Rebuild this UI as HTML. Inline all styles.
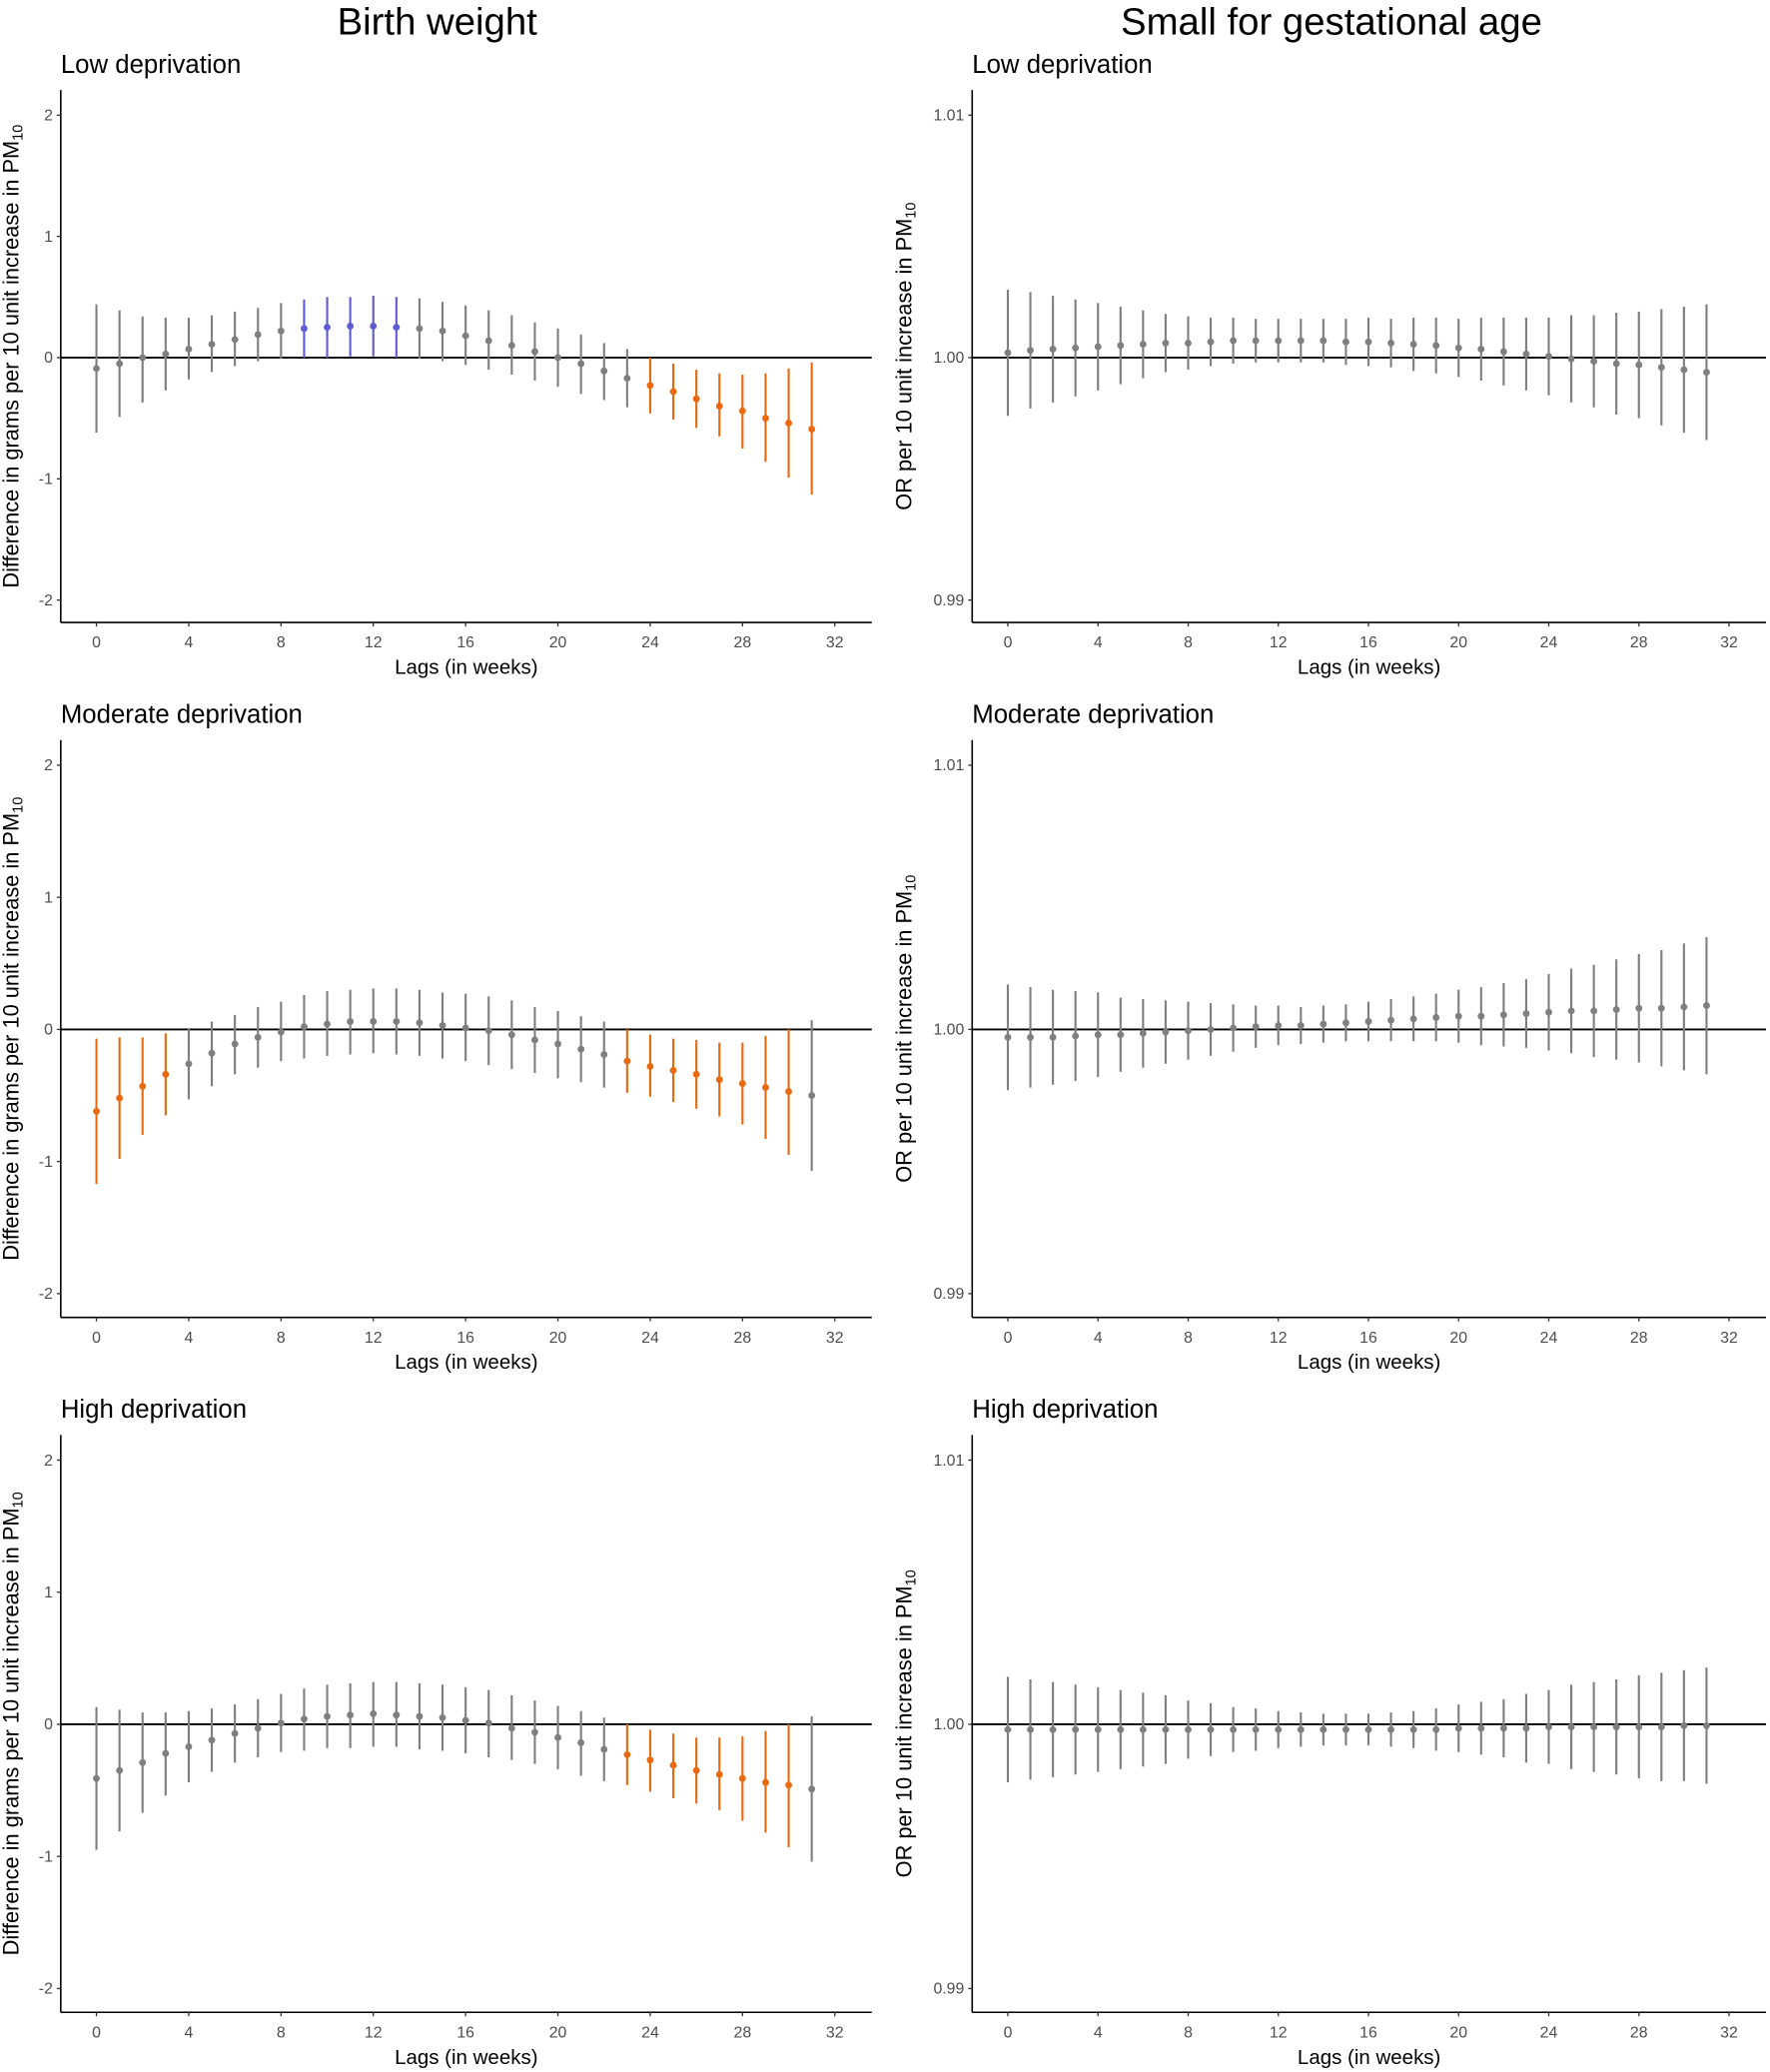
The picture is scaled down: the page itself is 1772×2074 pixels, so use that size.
<!DOCTYPE html>
<html><head><meta charset="utf-8"><style>
html,body{margin:0;padding:0;background:#fff}
svg{display:block;font-family:"Liberation Sans",sans-serif}
</style></head><body>
<svg id="fig" width="1772" height="2074" viewBox="0 0 1340 1568" xmlns="http://www.w3.org/2000/svg">
<text x="331" y="26" font-size="29" text-anchor="middle">Birth weight</text>
<text x="1008" y="26" font-size="29" text-anchor="middle">Small for gestational age</text>
</svg>
<script>
const lags = [0,1,2,3,4,5,6,7,8,9,10,11,12,13,14,15,16,17,18,19,20,21,22,23,24,25,26,27,28,29,30,31];
const xTicks = [0,4,8,12,16,20,24,28,32];
const bwTicks = ["2","1","0","-1","-2"];
const bwTickVals = [2,1,0,-1,-2];
const sgaTicks = ["1.01","1.00","0.99"];
const sgaTickVals = [10,0,-10];
const bwLowEst = [-0.09,-0.05,0.0,0.03,0.07,0.11,0.15,0.19,0.22,0.24,0.25,0.26,0.26,0.25,0.24,0.22,0.18,0.14,0.10,0.05,0.0,-0.05,-0.11,-0.17,-0.23,-0.28,-0.34,-0.40,-0.44,-0.50,-0.54,-0.59];
const bwLowLo = [-0.62,-0.49,-0.37,-0.27,-0.18,-0.12,-0.07,-0.03,-0.01,0.0,0.0,0.01,0.01,0.0,-0.01,-0.03,-0.06,-0.10,-0.14,-0.19,-0.24,-0.30,-0.35,-0.41,-0.46,-0.51,-0.58,-0.65,-0.75,-0.86,-0.99,-1.13];
const bwLowHi = [0.44,0.39,0.34,0.33,0.33,0.35,0.38,0.41,0.45,0.48,0.50,0.50,0.51,0.50,0.49,0.46,0.43,0.39,0.35,0.29,0.24,0.19,0.12,0.07,0.0,-0.05,-0.10,-0.13,-0.14,-0.13,-0.09,-0.04];
const bwModEst = [-0.62,-0.52,-0.43,-0.34,-0.26,-0.18,-0.11,-0.06,-0.02,0.02,0.04,0.06,0.06,0.06,0.05,0.03,0.01,-0.01,-0.04,-0.08,-0.11,-0.15,-0.19,-0.24,-0.28,-0.31,-0.34,-0.38,-0.41,-0.44,-0.47,-0.50];
const bwModLo = [-1.17,-0.98,-0.80,-0.65,-0.53,-0.43,-0.34,-0.29,-0.24,-0.22,-0.20,-0.19,-0.18,-0.19,-0.20,-0.22,-0.24,-0.27,-0.30,-0.33,-0.37,-0.40,-0.44,-0.48,-0.51,-0.55,-0.60,-0.66,-0.72,-0.83,-0.95,-1.07];
const bwModHi = [-0.07,-0.06,-0.06,-0.03,0.01,0.06,0.11,0.17,0.21,0.26,0.29,0.30,0.31,0.31,0.30,0.28,0.27,0.25,0.22,0.17,0.14,0.10,0.06,0.0,-0.04,-0.07,-0.08,-0.10,-0.10,-0.05,0.0,0.07];
const bwHighEst = [-0.41,-0.35,-0.29,-0.22,-0.17,-0.12,-0.07,-0.03,0.01,0.04,0.06,0.07,0.08,0.07,0.06,0.05,0.03,0.01,-0.03,-0.06,-0.10,-0.14,-0.19,-0.23,-0.27,-0.31,-0.35,-0.38,-0.41,-0.44,-0.46,-0.49];
const bwHighLo = [-0.95,-0.81,-0.67,-0.54,-0.44,-0.36,-0.29,-0.25,-0.21,-0.20,-0.18,-0.18,-0.17,-0.17,-0.19,-0.20,-0.22,-0.25,-0.27,-0.30,-0.34,-0.39,-0.43,-0.46,-0.51,-0.56,-0.60,-0.65,-0.73,-0.82,-0.93,-1.04];
const bwHighHi = [0.13,0.11,0.09,0.09,0.10,0.12,0.15,0.19,0.23,0.27,0.30,0.31,0.32,0.32,0.31,0.30,0.28,0.26,0.22,0.18,0.14,0.10,0.05,0.0,-0.04,-0.07,-0.10,-0.10,-0.09,-0.05,0.0,0.06];
const sgaLowEst = [0.2,0.3,0.35,0.4,0.45,0.5,0.55,0.6,0.6,0.65,0.7,0.7,0.7,0.7,0.7,0.65,0.65,0.6,0.55,0.5,0.4,0.35,0.25,0.15,0.05,-0.05,-0.15,-0.25,-0.3,-0.4,-0.5,-0.6];
const sgaLowHalf = [2.6,2.4,2.2,2.0,1.8,1.6,1.4,1.2,1.1,1.0,0.95,0.9,0.9,0.9,0.9,0.95,1.0,1.0,1.1,1.15,1.2,1.3,1.4,1.5,1.6,1.8,1.9,2.1,2.2,2.4,2.6,2.8];
const sgaModEst = [-0.3,-0.3,-0.3,-0.25,-0.2,-0.2,-0.15,-0.1,-0.05,0,0.05,0.1,0.15,0.15,0.2,0.25,0.3,0.35,0.4,0.45,0.5,0.5,0.55,0.6,0.65,0.7,0.7,0.75,0.8,0.8,0.85,0.9];
const sgaModHalf = [2.0,1.9,1.8,1.7,1.6,1.4,1.3,1.2,1.1,1.0,0.9,0.8,0.75,0.7,0.7,0.7,0.75,0.8,0.85,0.9,1.0,1.1,1.2,1.3,1.45,1.6,1.75,1.9,2.05,2.2,2.4,2.6];
const sgaHighEst = [-0.2,-0.2,-0.2,-0.2,-0.2,-0.2,-0.2,-0.2,-0.2,-0.2,-0.2,-0.2,-0.2,-0.2,-0.2,-0.2,-0.2,-0.2,-0.2,-0.2,-0.15,-0.15,-0.15,-0.15,-0.1,-0.1,-0.1,-0.1,-0.1,-0.1,-0.05,-0.05];
const sgaHighHalf = [2.0,1.9,1.8,1.7,1.6,1.5,1.4,1.3,1.1,1.0,0.85,0.8,0.7,0.65,0.6,0.6,0.6,0.65,0.7,0.8,0.9,1.0,1.1,1.3,1.4,1.6,1.7,1.8,1.95,2.05,2.1,2.2];

const NS='http://www.w3.org/2000/svg';
const svg=document.getElementById('fig');
function mk(tag,attrs,parent){const e=document.createElementNS(NS,tag);for(const k in attrs)e.setAttribute(k,attrs[k]);(parent||svg).appendChild(e);return e;}

const rows=[
 {title:55, top:68, bottom:471, yTop:87, yBot:454, xLab:510, name:'low'},
 {title:547, top:560, bottom:997, yTop:579, yBot:979, xLab:1036, name:'moderate'},
 {title:1073, top:1086, bottom:1523, yTop:1105, yBot:1505, xLab:1562, name:'high'}
];
const rowTitles=['Low deprivation','Moderate deprivation','High deprivation'];
const cols=[
 {axX:46, right:660, x0:73, x32:632, min:-2, max:2, ticks:bwTicks, tv:bwTickVals, yTitle:'Difference in grams per 10 unit increase in PM', titleX:14, name:'bw'},
 {axX:736, right:1337, x0:763, x32:1309, min:-10, max:10, ticks:sgaTicks, tv:sgaTickVals, yTitle:'OR per 10 unit increase in PM', titleX:690, name:'sga'}
];
const bwData=[[bwLowEst,bwLowLo,bwLowHi],[bwModEst,bwModLo,bwModHi],[bwHighEst,bwHighLo,bwHighHi]];
const sgaData=[[sgaLowEst,sgaLowHalf],[sgaModEst,sgaModHalf],[sgaHighEst,sgaHighHalf]];

rows.forEach((r,ri)=>{
 cols.forEach((c,ci)=>{
  const g=mk('g',{});
  
  
  const xs=v=>c.x0+(v/32)*(c.x32-c.x0);
  const ys=v=>r.yBot-(v-c.min)/(c.max-c.min)*(r.yBot-r.yTop);
  const t=mk('text',{x:c.axX,y:r.title,'font-size':19.5,fill:'#000'},g);
  t.textContent=rowTitles[ri];
  
  
  const zl=mk('line',{x1:c.axX,x2:c.right,y1:ys(0),y2:ys(0),stroke:'#000','stroke-width':1.4},g);
  
  
  let est,lo,hi;
  if(ci===0){est=bwData[ri][0];lo=bwData[ri][1];hi=bwData[ri][2];}
  else{est=sgaData[ri][0];lo=est.map((v,i)=>v-sgaData[ri][1][i]);hi=est.map((v,i)=>v+sgaData[ri][1][i]);}
  lags.forEach((l,i)=>{
   let col='#7f7f7f';
   if(lo[i]>=0) col='#5f5bd1'; else if(hi[i]<=0) col='#e8690f';
   const ln=mk('line',{x1:xs(l),x2:xs(l),y1:ys(lo[i]),y2:ys(hi[i]),stroke:col,'stroke-width':1.6},g);
   
   
   const p=mk('circle',{cx:xs(l),cy:ys(est[i]),r:2.6,fill:col},g);
   
   
  });
  const ya=mk('line',{x1:c.axX,x2:c.axX,y1:r.top,y2:r.bottom,stroke:'#000','stroke-width':1.2},g);
  
  
  const xa=mk('line',{x1:c.axX,x2:c.right,y1:r.bottom,y2:r.bottom,stroke:'#000','stroke-width':1.2},g);
  
  
  c.tv.forEach((v,k)=>{
   mk('line',{x1:c.axX-3,x2:c.axX,y1:ys(v),y2:ys(v),stroke:'#333','stroke-width':1},g);
   const tl=mk('text',{x:c.axX-6,y:ys(v)+4,'font-size':12,fill:'#4d4d4d','text-anchor':'end'},g);
   tl.textContent=c.ticks[k];
   
   
  });
  xTicks.forEach(v=>{
   mk('line',{x1:xs(v),x2:xs(v),y1:r.bottom,y2:r.bottom+3,stroke:'#333','stroke-width':1},g);
   const tl=mk('text',{x:xs(v),y:r.bottom+19,'font-size':12,fill:'#4d4d4d','text-anchor':'middle'},g);
   tl.textContent=v;
   
   
  });
  const xt=mk('text',{x:(c.axX+c.right)/2,y:r.xLab,'font-size':15.5,fill:'#000','text-anchor':'middle'},g);
  xt.textContent='Lags (in weeks)';
  
  
  const cy=(r.top+r.bottom)/2;
  const yt=mk('text',{x:0,y:0,'font-size':16.5,fill:'#000','text-anchor':'middle',transform:`translate(${c.titleX},${cy}) rotate(-90)`},g);
  yt.textContent=c.yTitle;
  const sub=mk('tspan',{'font-size':11,dy:3},yt);
  sub.textContent='10';
  
  
 });
});
</script>
</body></html>
